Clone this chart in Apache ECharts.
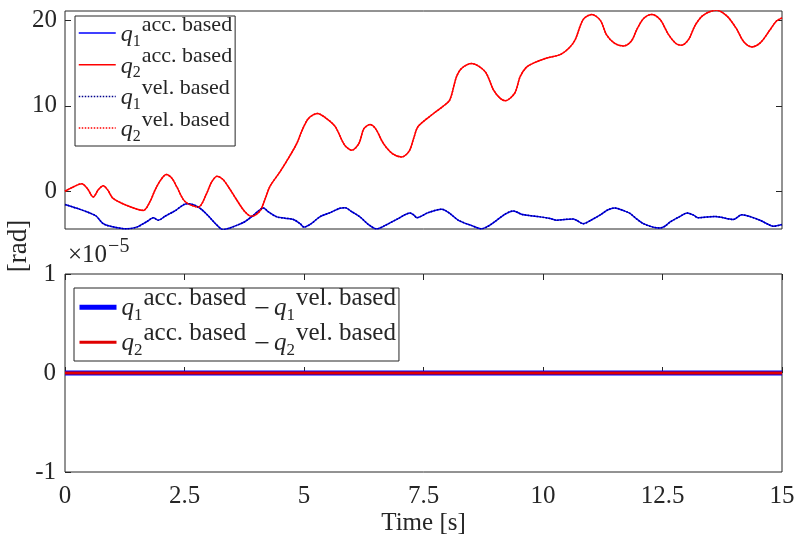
<!DOCTYPE html>
<html><head><meta charset="utf-8">
<script src="https://cdn.jsdelivr.net/npm/echarts@6/dist/echarts.min.js"></script>
<style>html,body{margin:0;padding:0;background:#fff}#c{width:802px;height:547px}</style>
</head><body><div id="c"></div>
<script>
// ---- data ----
const q1Time = [0,0.25,0.52,0.65,0.80,0.95,1.29,1.5,1.7,1.85,1.95,2.1,2.3,2.55,2.7,2.85,3.0,3.15,3.31,3.45,3.59,3.75,3.9,4.05,4.15,4.25,4.43,4.6,4.78,4.92,5.0,5.15,5.33,5.55,5.75,5.86,6.0,6.17,6.35,6.52,6.7,6.97,7.22,7.3,7.36,7.6,7.88,8.05,8.23,8.5,8.72,8.85,9.03,9.2,9.38,9.55,9.66,9.94,10.15,10.29,10.45,10.63,10.7,10.84,11.0,11.19,11.35,11.5,11.7,11.82,11.95,12.10,12.30,12.45,12.55,12.66,12.85,13.02,13.15,13.25,13.6,13.98,14.16,14.35,14.54,14.72,14.82,15.0];
const q1Acc  = [-1.55,-2.0,-2.55,-2.9,-3.8,-4.1,-4.4,-4.2,-3.6,-3.1,-3.4,-2.9,-2.3,-1.45,-1.6,-2.1,-2.9,-3.8,-4.5,-4.3,-4.0,-3.6,-3.0,-2.3,-1.95,-2.4,-3.0,-3.15,-3.3,-3.8,-4.2,-3.8,-3.0,-2.5,-2.0,-1.92,-2.4,-3.0,-3.9,-4.4,-4.0,-3.2,-2.55,-2.8,-3.1,-2.5,-2.1,-2.6,-3.4,-4.0,-4.4,-4.1,-3.4,-2.7,-2.3,-2.7,-2.8,-3.0,-3.2,-3.4,-3.3,-3.25,-3.4,-3.8,-3.4,-2.8,-2.2,-1.95,-2.3,-2.6,-3.2,-3.8,-4.2,-4.3,-4.1,-3.6,-3.0,-2.55,-2.8,-3.1,-2.95,-3.3,-2.75,-3.0,-3.4,-3.9,-4.1,-3.9];
const q2Time = [0,0.17,0.35,0.47,0.59,0.70,0.80,0.90,1.0,1.29,1.64,1.78,1.88,2.0,2.12,2.24,2.34,2.51,2.79,2.96,3.06,3.18,3.30,3.42,3.59,3.75,3.9,4.08,4.20,4.29,4.5,4.71,4.85,4.95,5.09,5.28,5.45,5.65,5.85,6.0,6.15,6.25,6.38,6.50,6.66,6.85,7.04,7.20,7.30,7.39,7.71,7.9,8.05,8.19,8.30,8.51,8.79,8.96,9.1,9.21,9.41,9.52,9.65,9.80,10.08,10.36,10.55,10.67,10.84,11.02,11.2,11.33,11.5,11.68,11.85,11.96,12.1,12.27,12.45,12.62,12.78,12.90,13.05,13.18,13.35,13.63,13.85,14.05,14.2,14.37,14.55,14.75,14.88,15.0];
const q2Acc  = [0.0,0.5,0.88,0.3,-0.67,0.2,0.65,0.1,-0.8,-1.65,-2.24,-1.2,0.1,1.3,1.95,1.5,0.5,-1.2,-1.85,-0.3,1.0,1.75,1.4,0.5,-1.0,-2.3,-2.94,-2.3,-0.7,0.6,2.3,4.2,5.6,7.0,8.5,9.1,8.6,7.6,5.4,4.8,5.6,7.3,7.8,7.3,5.6,4.4,4.0,4.7,6.3,7.6,9.1,9.9,10.7,13.4,14.4,14.95,14.0,11.9,10.9,10.6,11.5,13.4,14.5,15.0,15.6,16.0,16.8,17.7,20.1,20.7,20.0,18.3,17.3,17.0,17.6,18.9,20.2,20.7,20.1,18.4,17.3,17.1,17.8,19.4,20.6,21.2,20.5,19.0,17.5,16.9,17.4,18.9,19.9,20.3];
// velocity based results coincide with the acceleration based ones (difference ~1e-5)
const q1Vel = q1Acc;
const q2Vel = q2Acc;
const diffTime = [0, 15];
const q1Diff = [0, 0];
const q2Diff = [0, 0];
const topYTicks = [0, 10, 20];
const bottomYTicks = [-1, 0, 1];
const timeTicks = [0, 2.5, 5, 7.5, 10, 12.5, 15];

// ---- chart ----
const F = 'Liberation Serif';
const INK = '#262626';
const zip = (t, v) => t.map((x, i) => [x, v[i]]);

const tok = (size, pad, italic) => ({fontFamily: F, fontSize: size, fontStyle: italic ? 'italic' : 'normal', color: INK,
  verticalAlign: 'bottom', padding: pad});
const richTop = {
  q: tok(24, [0, 0, 5.6, 0], true),
  s: tok(16, [19.4, 1, 2.8, 0]),
  p: tok(22, [0, 0, 16.2, 0])
};
const richBottom = {
  q: tok(25, [0, 0, 8, 0], true),
  s: tok(17, [21.7, 1, 4.3, 0]),
  p: tok(25, [0, 0, 18, 0]),
  m: tok(28, [0, 4, 5.5, 8])
};
const term = (i, kind) => '{q|q}{s|' + i + '}{p|' + kind + '. based}';
const legendText = {
  'q1 acc. based': term(1, 'acc'),
  'q2 acc. based': term(2, 'acc'),
  'q1 vel. based': term(1, 'vel'),
  'q2 vel. based': term(2, 'vel'),
  'q1 diff': term(1, 'acc') + '{m|−}' + term(1, 'vel'),
  'q2 diff': term(2, 'acc') + '{m|−}' + term(2, 'vel')
};

const tickStyle = {show: true, inside: true, length: 6, lineStyle: {color: INK, width: 1}};
const labelStyle = {fontSize: 25, color: INK, fontFamily: F};
const hiddenSymbol = {color: 'rgba(0,0,0,0)', borderWidth: 0, opacity: 0};

const option = {
  animation: false,
  backgroundColor: '#fff',
  textStyle: {fontFamily: F},
  grid: [
    {left: 65, top: 11, width: 717, height: 218, show: true, borderColor: INK, borderWidth: 1, backgroundColor: 'transparent'},
    {left: 65, top: 274, width: 717, height: 198, show: true, borderColor: INK, borderWidth: 1, backgroundColor: 'transparent'}
  ],
  xAxis: [
    {gridIndex: 0, type: 'value', min: 0, max: 15, interval: 2.5, axisLine: {show: false}, axisTick: {show: false}, axisLabel: {show: false}, splitLine: {show: false}},
    {gridIndex: 1, type: 'value', min: 0, max: 15, interval: 2.5, position: 'bottom', axisLine: {show: false},
     axisTick: Object.assign({customValues: timeTicks}, tickStyle),
     axisLabel: Object.assign({customValues: timeTicks, margin: 12, formatter: v => String(v)}, labelStyle),
     splitLine: {show: false},
     name: 'Time [s]', nameLocation: 'middle', nameGap: 39, nameTextStyle: {fontSize: 25, color: INK, fontFamily: F}},
    {gridIndex: 1, type: 'value', min: 0, max: 15, interval: 2.5, position: 'top', axisLine: {show: false},
     axisTick: Object.assign({customValues: timeTicks}, tickStyle), axisLabel: {show: false}, splitLine: {show: false}}
  ],
  yAxis: [
    {gridIndex: 0, type: 'value', min: -4.42, max: 21.1, position: 'left', axisLine: {show: false},
     axisTick: Object.assign({customValues: topYTicks}, tickStyle),
     axisLabel: Object.assign({customValues: topYTicks, margin: 8}, labelStyle), splitLine: {show: false}},
    {gridIndex: 0, type: 'value', min: -4.42, max: 21.1, position: 'right', axisLine: {show: false},
     axisTick: Object.assign({customValues: topYTicks}, tickStyle), axisLabel: {show: false}, splitLine: {show: false}},
    {gridIndex: 1, type: 'value', min: -1, max: 1, interval: 1, position: 'left', axisLine: {show: false},
     axisTick: Object.assign({customValues: bottomYTicks}, tickStyle),
     axisLabel: Object.assign({customValues: bottomYTicks, margin: 9}, labelStyle), splitLine: {show: false},
     name: '{a|×10}{b|−5}', nameLocation: 'end', nameGap: 6,
     nameTextStyle: {align: 'left', verticalAlign: 'bottom', rich: {
       a: {fontSize: 25, fontFamily: F, color: INK, verticalAlign: 'bottom', padding: [0, 0, 0, 3]},
       b: {fontSize: 20, fontFamily: F, color: INK, verticalAlign: 'bottom', padding: [0, 0, 11, 1]}
     }}}
  ],
  legend: [
    {orient: 'vertical', left: 75, top: 16, padding: [-2.1, 3, 1.6, 3], itemGap: -3.7, itemWidth: 37, itemHeight: 14,
     backgroundColor: '#fff', borderColor: INK, borderWidth: 1, itemStyle: hiddenSymbol, lineStyle: {width: 'inherit'},
     data: ['q1 acc. based', 'q2 acc. based', 'q1 vel. based', 'q2 vel. based'],
     formatter: n => legendText[n], textStyle: {fontFamily: F, color: INK, rich: richTop}},
    {orient: 'vertical', left: 74, top: 288, padding: [-2.2, 3, 1.5, 3], itemGap: -3.7, itemWidth: 37, itemHeight: 14,
     backgroundColor: '#fff', borderColor: INK, borderWidth: 1, itemStyle: hiddenSymbol, lineStyle: {width: 'inherit'},
     data: ['q1 diff', 'q2 diff'],
     formatter: n => legendText[n], textStyle: {fontFamily: F, color: INK, rich: richBottom}}
  ],
  graphic: [
    {type: 'text', x: 19, y: 246, rotation: Math.PI / 2,
     style: {text: '[rad]', fontSize: 27, fontFamily: F, fill: INK, align: 'center', verticalAlign: 'middle', textAlign: 'center', textVerticalAlign: 'middle'}}
  ],
  series: [
    {name: 'q1 acc. based', type: 'line', xAxisIndex: 0, yAxisIndex: 0, data: zip(q1Time, q1Acc), symbol: 'none', smooth: 0.3,
     lineStyle: {color: '#0000ff', width: 1.5}, itemStyle: {color: '#0000ff'}},
    {name: 'q2 acc. based', type: 'line', xAxisIndex: 0, yAxisIndex: 0, data: zip(q2Time, q2Acc), symbol: 'none', smooth: 0.3,
     lineStyle: {color: '#ff0000', width: 1.5}, itemStyle: {color: '#ff0000'}},
    {name: 'q1 vel. based', type: 'line', xAxisIndex: 0, yAxisIndex: 0, data: zip(q1Time, q1Vel), symbol: 'none', smooth: 0.3,
     lineStyle: {color: '#00008b', width: 1.5, type: 'dotted'}, itemStyle: {color: '#00008b'}},
    {name: 'q2 vel. based', type: 'line', xAxisIndex: 0, yAxisIndex: 0, data: zip(q2Time, q2Vel), symbol: 'none', smooth: 0.3,
     lineStyle: {color: '#ff0000', width: 1.5, type: 'dotted'}, itemStyle: {color: '#ff0000'}},
    {name: 'q1 diff', type: 'line', xAxisIndex: 1, yAxisIndex: 2, data: zip(diffTime, q1Diff), symbol: 'none',
     lineStyle: {color: '#0000ff', width: 5}, itemStyle: {color: '#0000ff'}},
    {name: 'q2 diff', type: 'line', xAxisIndex: 1, yAxisIndex: 2, data: zip(diffTime, q2Diff), symbol: 'none',
     lineStyle: {color: '#e00000', width: 3}, itemStyle: {color: '#e00000'}}
  ]
};
const chart = echarts.init(document.getElementById('c'), null, {renderer: 'canvas'});
chart.setOption(option);
</script>
</body></html>
